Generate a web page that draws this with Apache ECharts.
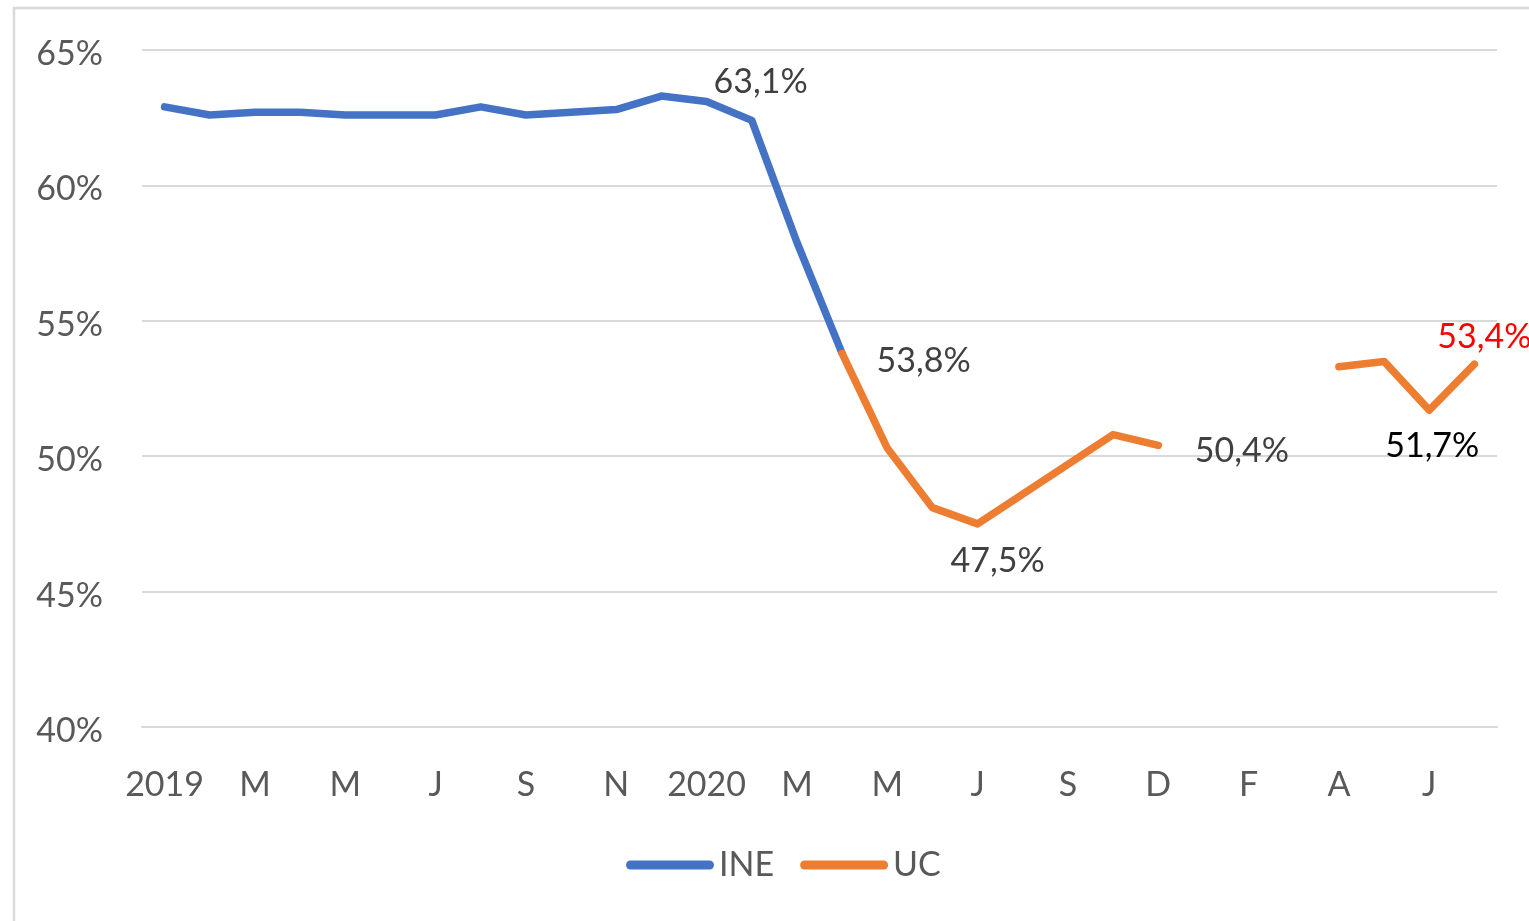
<!DOCTYPE html>
<html>
<head>
<meta charset="utf-8">
<script src="https://cdn.jsdelivr.net/npm/echarts@6/dist/echarts.min.js"></script>
<style>
  html, body { margin: 0; padding: 0; background: #fff; }
  #chart { width: 1529px; height: 921px; }
</style>
</head>
<body>
<div id="chart"></div>
<script>
// categorías mensuales (ene 2019 - jul 2021)
const categories = ['2019', 'F', 'M', 'A', 'M', 'J', 'J', 'A', 'S', 'O', 'N', 'D',
  '2020', 'F', 'M', 'A', 'M', 'J', 'J', 'A', 'S', 'O', 'D', 'E',
  'F', 'M', 'A', 'M', 'J', 'J']
const ineValues = [62.9, 62.6, 62.7, 62.7, 62.6, 62.6, 62.6, 62.9, 62.6, 62.7, 62.8, 63.3,
  63.1, 62.4, 57.9, 53.8, null, null, null, null, null, null, null, null,
  null, null, null, null, null, null]
const ucValues = [null, null, null, null, null, null, null, null, null, null, null, null,
  null, null, null, 53.8, 50.3, 48.1, 47.5, 48.6, 49.7, 50.8, 50.4, null,
  null, null, 53.3, 53.5, 51.7, 53.4]
const yTicks = [40, 45, 50, 55, 60, 65]

const fmt = v => v.toFixed(1).replace('.', ',') + '%'
const txt = '#404040'
const fs = 34

// etiquetas puntuales
const ineLabels = {
  12: { position: 'top', distance: 12, color: txt, offset: [54, 10] }
}
const ucLabels = {
  15: { position: 'right', distance: 34, color: txt, offset: [0, 8] },
  18: { position: 'bottom', distance: 18, color: txt, offset: [20, 2] },
  22: { position: 'right', distance: 36, color: txt, offset: [0, 6] },
  28: { position: 'bottom', distance: 18, color: '#000', offset: [3, 0] },
  29: { position: 'top', distance: 10, color: '#ff0000', offset: [10, 0] }
}

function build(values, labels) {
  return values.map((v, i) => {
    if (labels[i] && v != null) {
      return {
        value: v,
        symbol: 'circle',
        symbolSize: 1,
        label: Object.assign({ show: true, formatter: p => fmt(p.value), fontSize: fs, fontFamily: 'Lato' }, labels[i])
      }
    }
    return v
  })
}

const chart = echarts.init(document.getElementById('chart'))
chart.setOption({
  animation: false,
  backgroundColor: '#fff',
  textStyle: { fontFamily: 'Lato' },
  graphic: [{
    type: 'rect',
    shape: { x: 14, y: 8, width: 1700, height: 1100 },
    style: { fill: 'none', stroke: '#d9d9d9', lineWidth: 2.5 },
    silent: true
  }],
  grid: { left: 142, right: 32, top: 50, bottom: 194, containLabel: false },
  legend: {
    top: 843,
    left: 621,
    itemWidth: 88,
    itemHeight: 9,
    itemGap: 26,
    icon: 'path://M4.5,0 H83.5 A4.5,4.5 0 0 1 83.5,9 H4.5 A4.5,4.5 0 0 1 4.5,0 Z',
    textStyle: { fontSize: fs, color: '#595959', fontFamily: 'Lato' },
    data: ['INE', 'UC']
  },
  xAxis: {
    type: 'category',
    data: categories,
    boundaryGap: true,
    axisLine: { show: true, lineStyle: { color: '#d9d9d9', width: 2 } },
    axisTick: { show: false },
    axisLabel: { interval: 1, margin: 41, fontSize: fs, color: '#595959', fontFamily: 'Lato' }
  },
  yAxis: {
    type: 'value',
    min: yTicks[0],
    max: yTicks[yTicks.length - 1],
    interval: 5,
    axisLine: { show: false },
    axisTick: { show: false },
    axisLabel: {
      margin: 39,
      formatter: v => '{a|' + v + '%}',
      rich: { a: { fontSize: fs, color: '#595959', fontFamily: 'Lato', padding: [8, 0, 0, 0] } }
    },
    splitLine: { lineStyle: { color: '#d9d9d9', width: 2 } }
  },
  series: [
    {
      name: 'INE',
      type: 'line',
      data: build(ineValues, ineLabels),
      symbol: 'none',
      color: '#4472c4',
      lineStyle: { width: 7.5, cap: 'round', join: 'round' }
    },
    {
      name: 'UC',
      type: 'line',
      data: build(ucValues, ucLabels),
      symbol: 'none',
      color: '#ed7d31',
      connectNulls: false,
      lineStyle: { width: 7.5, cap: 'round', join: 'round' }
    }
  ]
})
</script>
</body>
</html>
